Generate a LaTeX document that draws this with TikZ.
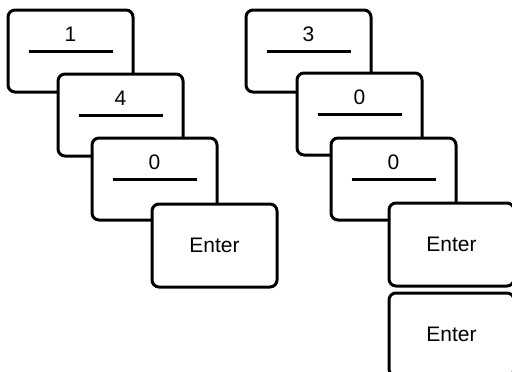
\documentclass[tikz,border=0pt]{standalone}
\usepackage{fontspec}
\setmainfont{Liberation Sans}
\begin{document}
\begin{tikzpicture}[x=1pt,y=-1pt,
  card/.style={draw, line width=3pt, rounded corners=7pt, fill=white,
    minimum width=125pt, minimum height=82pt, anchor=north west,
    inner sep=0pt, outer sep=0pt},
  entercard/.style={card, minimum height=83pt, font=\fontsize{21}{25}\selectfont},
  digit/.style={font=\fontsize{21}{25}\selectfont, inner sep=0pt},
  uline/.style={line width=3pt}]
\useasboundingbox (0,0) rectangle (512,372);
\clip (0,0) rectangle (512,372);
% left group
\node[card] (a1) at (8,10) {};
\node[digit] (ta1) at ([yshift=-24pt]a1.north) {1};
\draw[uline] ([xshift=-42pt,yshift=-41pt]a1.north) -- ([xshift=42pt,yshift=-41pt]a1.north);
\node[card] (a2) at (58,74) {};
\node[digit] (ta2) at ([yshift=-24pt]a2.north) {4};
\draw[uline] ([xshift=-42pt,yshift=-41pt]a2.north) -- ([xshift=42pt,yshift=-41pt]a2.north);
\node[card] (a3) at (92,138) {};
\node[digit] (ta3) at ([yshift=-24pt]a3.north) {0};
\draw[uline] ([xshift=-42pt,yshift=-41pt]a3.north) -- ([xshift=42pt,yshift=-41pt]a3.north);
\node[entercard] (a4) at (152,204) {Enter};
% right group
\node[card] (b1) at (246,10) {};
\node[digit] (tb1) at ([yshift=-24pt]b1.north) {3};
\draw[uline] ([xshift=-42pt,yshift=-41pt]b1.north) -- ([xshift=42pt,yshift=-41pt]b1.north);
\node[card] (b2) at (297,73) {};
\node[digit] (tb2) at ([yshift=-24pt]b2.north) {0};
\draw[uline] ([xshift=-42pt,yshift=-41pt]b2.north) -- ([xshift=42pt,yshift=-41pt]b2.north);
\node[card] (b3) at (331,138) {};
\node[digit] (tb3) at ([yshift=-24pt]b3.north) {0};
\draw[uline] ([xshift=-42pt,yshift=-41pt]b3.north) -- ([xshift=42pt,yshift=-41pt]b3.north);
\node[entercard] (b4) at (389,203) {Enter};
\node[entercard] (b5) at (389,293) {Enter};
\end{tikzpicture}
\end{document}
